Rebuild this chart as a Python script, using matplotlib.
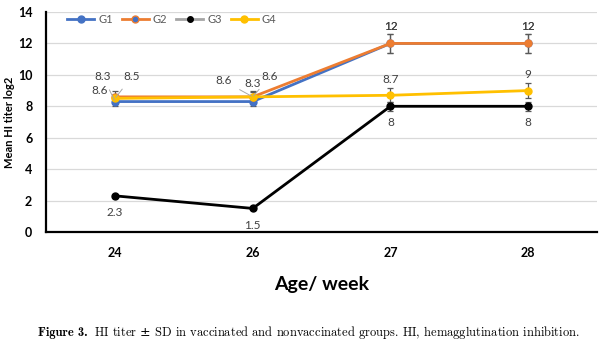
import matplotlib
matplotlib.use("Agg")
import matplotlib.pyplot as plt
from matplotlib.lines import Line2D

# Data
weeks = ["24", "26", "27", "28"]
g1 = [8.3, 8.3, 12, 12]
g2 = [8.6, 8.6, 12, 12]
g3 = [2.3, 1.5, 8, 8]
g4 = [8.5, 8.6, 8.7, 9]
g1_sd = [0.3, 0.3, 0.6, 0.6]
g2_sd = [0.4, 0.4, 0.6, 0.6]
g3_sd = [0.0, 0.0, 0.3, 0.3]
g4_sd = [0.3, 0.3, 0.45, 0.5]
y_ticks = [0, 2, 4, 6, 8, 10, 12, 14]

colors = {"G1": "#4472C4", "G2": "#ED7D31", "G3": "#000000", "G4": "#FFC000"}
label_color = "#404040"
font = "Lato"

fig = plt.figure(figsize=(6.0, 3.44), dpi=100)
ax = fig.add_axes([0.077, 0.3256, 0.918, 0.6395])

x = list(range(len(weeks)))
series = [("G1", g1, g1_sd), ("G2", g2, g2_sd), ("G3", g3, g3_sd), ("G4", g4, g4_sd)]
for name, vals, sd in series:
    ax.errorbar(x, vals, yerr=sd, fmt="none", ecolor="#595959", elinewidth=0.9,
                capsize=2.5, capthick=0.9, zorder=2)
for name, vals, sd in series:
    ax.plot(x, vals, color=colors[name], lw=2.0, marker="o", ms=5,
            markerfacecolor=colors[name], markeredgecolor=colors[name], zorder=3)

ax.set_xlim(-0.5, len(weeks) - 0.5)
ax.set_ylim(0, 14)
ax.set_yticks(y_ticks)
ax.set_xticks(x)
ax.set_xticklabels(weeks)
ax.tick_params(length=0, labelsize=9)
ax.tick_params(axis="y", pad=10)
ax.tick_params(axis="x", pad=11)
for t in ax.get_xticklabels() + ax.get_yticklabels():
    t.set_fontweight("bold")
    t.set_fontfamily(font)

ax.grid(axis="y", color="#d9d9d9", lw=0.9)
ax.set_axisbelow(True)
for s in ["top", "right"]:
    ax.spines[s].set_visible(False)
ax.spines["left"].set_linewidth(1.6)
ax.spines["bottom"].set_linewidth(1.6)

ax.set_ylabel("Mean HI titer log2", fontsize=8, fontweight="bold", family=font,
              va="center")
ax.yaxis.set_label_coords(-0.067, 0.5)
ax.set_xlabel("Age/ week", fontsize=14, fontweight="bold", family=font, labelpad=12)


def lab(xi, yi, text, dx, dy, leader=False):
    kw = dict(textcoords="offset pixels", ha="center", va="center",
              fontsize=8.5, color=label_color, family=font, zorder=5)
    if leader:
        kw["arrowprops"] = dict(arrowstyle="-", color="#a6a6a6", lw=0.7,
                                shrinkA=4, shrinkB=1)
    ax.annotate(text, xy=(xi, yi), xytext=(dx, dy), **kw)


# week 24
lab(0, g1[0], f"{g1[0]}", -12, 25, leader=True)
lab(0, g2[0], f"{g2[0]}", -15, 6)
lab(0, g4[0], f"{g4[0]}", 17, 22, leader=True)
# week 26
lab(1, g1[1], f"{g1[1]}", 0, 18)
lab(1, g2[1], f"{g2[1]}", -29, 16, leader=True)
lab(1, g4[1], f"{g4[1]}", 17, 20, leader=True)
# weeks 27, 28
for i in (2, 3):
    lab(i, g1[i], f"{g1[i]:g}", 0, 17)
    lab(i, g2[i], f"{g2[i]:g}", 0, 17)
    lab(i, g4[i], f"{g4[i]:g}", 0, 16)
    lab(i, g3[i], f"{g3[i]:g}", 0, -16)
for i in (0, 1):
    lab(i, g3[i], f"{g3[i]:g}", 0, -17)

handles = [
    Line2D([], [], color=colors["G1"], lw=2, marker="o", ms=5),
    Line2D([], [], color=colors["G2"], lw=2, marker="o", ms=5,
           markerfacecolor=colors["G1"], markeredgecolor=colors["G2"]),
    Line2D([], [], color="#a5a5a5", lw=2, marker="o", ms=4,
           markerfacecolor="#000000", markeredgecolor="#000000"),
    Line2D([], [], color=colors["G4"], lw=2, marker="o", ms=5),
]
leg = ax.legend(handles, ["G1", "G2", "G3", "G4"], ncol=4, loc="upper left",
                bbox_to_anchor=(0.02, 1.035), frameon=False, handlelength=2.4,
                columnspacing=0.8, handletextpad=0.4,
                prop={"family": font, "size": 8})
for t in leg.get_texts():
    t.set_color("#595959")

# caption
fig.text(0.064, 0.023, "Figure 3.", family="cmb10", fontsize=9, va="baseline")
fig.text(0.157, 0.023, r"HI titer $\pm$ SD in vaccinated and nonvaccinated groups. HI, hemagglutination inhibition.",
         family="cmr10", fontsize=9, va="baseline")

fig.savefig("out.png", dpi=100)
